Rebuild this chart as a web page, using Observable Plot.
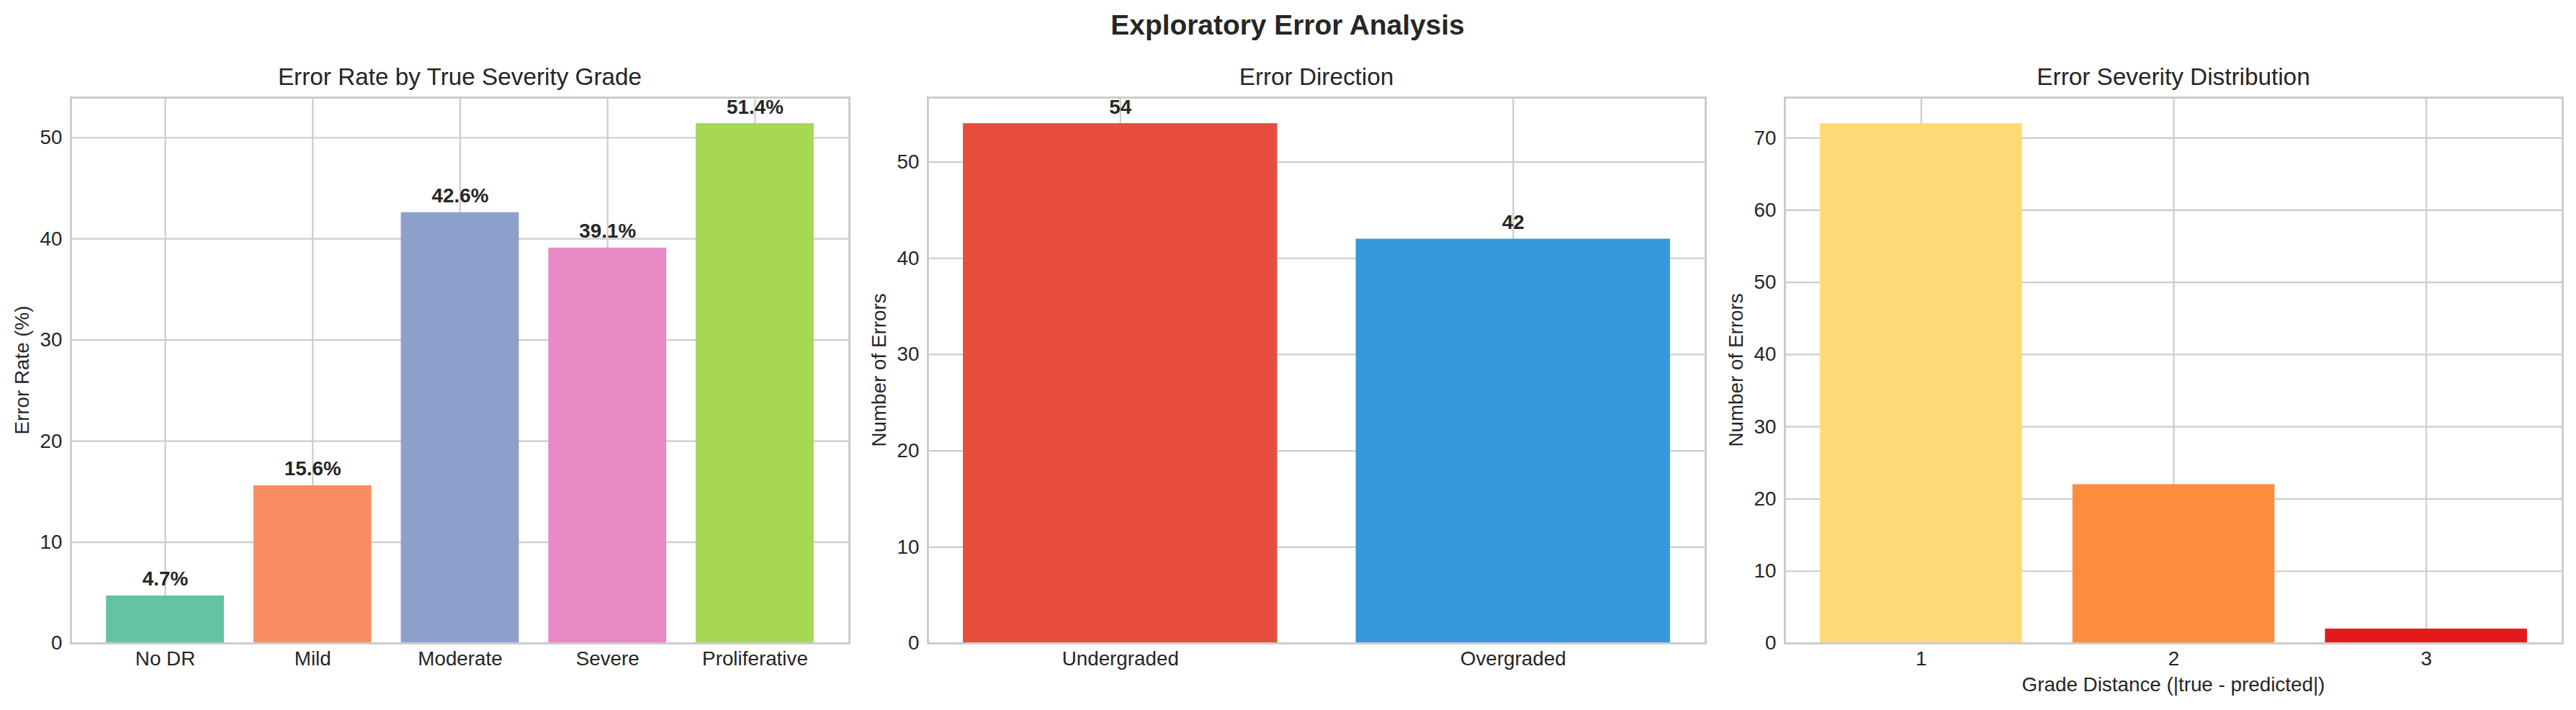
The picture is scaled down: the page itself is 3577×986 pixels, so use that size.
<!DOCTYPE html>
<html>
<head>
<meta charset="utf-8">
<script src="https://cdn.jsdelivr.net/npm/d3@7"></script>
<script src="https://cdn.jsdelivr.net/npm/@observablehq/plot@0.6"></script>
<style>
  html, body { margin: 0; padding: 0; background: #ffffff; }
  #root { position: relative; width: 3577px; height: 986px; overflow: hidden; background: #ffffff; }
  .panel { position: absolute; top: 95px; }
  #overlay { position: absolute; left: 0; top: 0; pointer-events: none; }
</style>
</head>
<body>
<div id="root"></div>
<script>
// ---- data ----
const grades = ["No DR", "Mild", "Moderate", "Severe", "Proliferative"];
const errorRates = [4.7, 15.6, 42.6, 39.1, 51.4];
const gradeColors = ["#66c2a5", "#fc8d62", "#8da0cb", "#e78ac3", "#a6d854"];

const directions = ["Undergraded", "Overgraded"];
const directionCounts = [54, 42];
const directionColors = ["#e74c3c", "#3498db"];

const distances = ["1", "2", "3"];
const distanceCounts = [72, 22, 2];
const distanceColors = ["#fed976", "#fd8d3c", "#e31a1c"];

const rateTicks = [0, 10, 20, 30, 40, 50];
const directionTicks = [0, 10, 20, 30, 40, 50];
const distanceTicks = [0, 10, 20, 30, 40, 50, 60, 70];

const suptitle = "Exploratory Error Analysis";
const titles = ["Error Rate by True Severity Grade", "Error Direction", "Error Severity Distribution"];
const yLabels = ["Error Rate (%)", "Number of Errors", "Number of Errors"];
const xLabels = [null, null, "Grade Distance (|true - predicted|)"];

// ---- drawing ----
const FONT = "'Liberation Sans', Arial, Helvetica, sans-serif";
const TXT = "#262626";
const GRID = "#cccccc";
const root = document.getElementById("root");

function panel(o) {
  const data = o.cats.map((c, i) => ({c, v: o.vals[i]}));
  const marks = [
    Plot.gridY(o.ticks, {stroke: GRID, strokeOpacity: 1, strokeWidth: 2.2}),
    Plot.gridX(o.cats, {stroke: GRID, strokeOpacity: 1, strokeWidth: 2.2}),
    Plot.barY(data, {x: "c", y: "v", fill: "c"}),
    Plot.axisX({tickSize: 0, tickPadding: 11, label: null}),
    Plot.axisY(o.ticks, {tickSize: 0, tickPadding: 12, label: null})
  ];
  if (o.labels) {
    marks.push(Plot.text(data, {
      x: "c", y: "v", text: o.labels, dy: -14, lineAnchor: "bottom",
      fontWeight: "bold", fill: TXT, fontSize: 27.8
    }));
  }
  marks.push(Plot.frame({stroke: GRID, strokeOpacity: 1, strokeWidth: 3}));
  const svg = Plot.plot({
    width: o.width, height: 891,
    marginTop: 40, marginBottom: 93, marginLeft: o.marginLeft, marginRight: o.marginRight,
    style: {fontFamily: FONT, fontSize: "27.8px", color: TXT, background: "transparent", overflow: "visible"},
    x: {type: "band", domain: o.cats, paddingInner: 0.2, paddingOuter: o.pad, round: false, label: null},
    y: {domain: [0, o.yMax], label: null},
    color: {domain: o.cats, range: o.colors},
    marks
  });
  svg.classList.add("panel");
  svg.style.left = o.left + "px";
  svg.style.position = "absolute";
  svg.style.top = "95px";
  root.appendChild(svg);
}

panel({left: 0, width: 1200, marginLeft: 98, marginRight: 21, cats: grades, vals: errorRates,
  colors: gradeColors, yMax: 51.4 * 1.05, ticks: rateTicks, pad: 0.24,
  labels: d => d.v.toFixed(1) + "%"});
panel({left: 1200, width: 1180, marginLeft: 88, marginRight: 12, cats: directions, vals: directionCounts,
  colors: directionColors, yMax: 54 * 1.05, ticks: directionTicks, pad: 0.09,
  labels: d => String(d.v)});
panel({left: 2380, width: 1197, marginLeft: 98, marginRight: 19, cats: distances, vals: distanceCounts,
  colors: distanceColors, yMax: 72 * 1.05, ticks: distanceTicks, pad: 0.14, labels: null});

// overlay text (titles & axis labels)
const frames = [[98, 1179], [1288, 2368], [2478, 3558]];
const frameTop = 135, frameBottom = 893;
const ns = "http://www.w3.org/2000/svg";
const ov = document.createElementNS(ns, "svg");
ov.setAttribute("id", "overlay");
ov.setAttribute("width", 3577);
ov.setAttribute("height", 986);
ov.style.fontFamily = FONT;
function addText(str, x, y, size, weight, rotate) {
  const t = document.createElementNS(ns, "text");
  t.textContent = str;
  t.setAttribute("x", x);
  t.setAttribute("y", y);
  t.setAttribute("text-anchor", "middle");
  t.setAttribute("font-size", size);
  t.setAttribute("fill", TXT);
  if (weight) t.setAttribute("font-weight", weight);
  if (rotate) t.setAttribute("transform", `rotate(-90 ${x} ${y})`);
  ov.appendChild(t);
}
addText(suptitle, 1788, 48, 38.9, "bold");
frames.forEach(([l, r], i) => {
  const cx = (l + r) / 2;
  addText(titles[i], cx, 118, 33.3);
  addText(yLabels[i], l - 68 + 10, (frameTop + frameBottom) / 2, 27.8, null, true);
  if (xLabels[i]) addText(xLabels[i], cx, 960, 27.8);
});
root.appendChild(ov);
</script>
</body>
</html>
